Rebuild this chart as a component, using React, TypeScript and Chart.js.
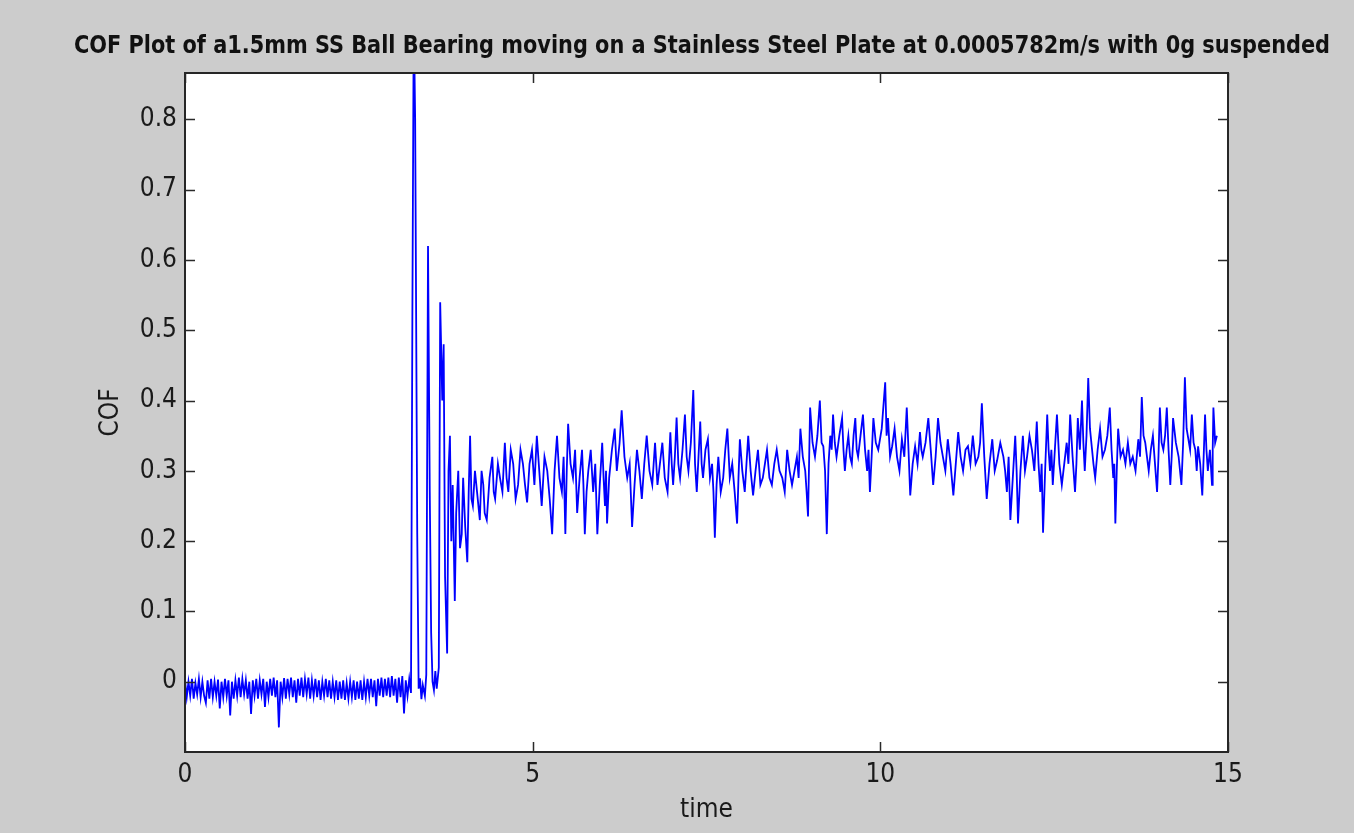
import React, { useEffect, useRef } from "react";
import { Chart, registerables } from "chart.js";

Chart.register(...registerables);

const titleText =
  "COF Plot of a1.5mm SS Ball Bearing moving on a Stainless Steel Plate at 0.0005782m/s with 0g suspended";
const xAxisLabel = "time";
const yAxisLabel = "COF";
const xTickValues = [0, 5, 10, 15];
const yTickValues = [0, 0.1, 0.2, 0.3, 0.4, 0.5, 0.6, 0.7, 0.8];

// [time, COF] samples
const baselineSamples: [number, number][] = [
  [0.0, 0.002], [0.025, -0.022], [0.05, 0.0], [0.075, -0.02], [0.1, 0.004], [0.125, -0.024], [0.15, -0.002],
  [0.175, -0.018], [0.2, 0.004], [0.225, -0.022], [0.25, 0.0], [0.275, -0.02], [0.3, -0.03], [0.325, 0.002],
  [0.35, -0.024], [0.375, 0.004], [0.4, -0.022], [0.425, 0.0], [0.45, -0.02], [0.475, 0.003], [0.5, -0.038],
  [0.525, 0.0], [0.55, -0.022], [0.575, 0.004], [0.6, -0.02], [0.625, 0.002], [0.65, -0.048], [0.675, 0.0],
  [0.7, -0.024], [0.725, 0.002], [0.75, -0.02], [0.775, 0.006], [0.8, -0.022], [0.825, 0.004], [0.85, -0.018],
  [0.875, 0.002], [0.9, -0.024], [0.925, 0.0], [0.95, -0.046], [0.975, 0.002], [1.0, -0.02], [1.025, 0.004],
  [1.05, -0.024], [1.075, 0.002], [1.1, -0.018], [1.125, 0.004], [1.15, -0.036], [1.175, 0.0], [1.2, -0.022],
  [1.225, 0.004], [1.25, -0.02], [1.275, 0.006], [1.3, -0.022], [1.325, 0.002], [1.35, -0.065], [1.375, 0.0],
  [1.4, -0.022], [1.425, 0.005], [1.45, -0.024], [1.475, 0.004], [1.5, -0.018], [1.525, 0.006], [1.55, -0.022],
  [1.575, 0.002], [1.6, -0.03], [1.625, 0.004], [1.65, -0.02], [1.675, 0.006], [1.7, -0.022], [1.725, 0.004],
  [1.75, -0.018], [1.775, 0.006], [1.8, -0.024], [1.825, 0.002], [1.85, -0.02], [1.875, 0.004], [1.9, -0.022],
  [1.925, 0.002], [1.95, -0.026], [1.975, 0.0], [2.0, -0.02], [2.025, 0.004], [2.05, -0.022], [2.075, 0.002],
  [2.1, -0.024], [2.125, 0.0], [2.15, -0.022], [2.175, 0.002], [2.2, -0.026], [2.225, 0.0], [2.25, -0.024],
  [2.275, 0.002], [2.3, -0.026], [2.325, -0.002], [2.35, -0.024], [2.375, 0.0], [2.4, -0.022], [2.425, 0.002],
  [2.45, -0.026], [2.475, 0.0], [2.5, -0.024], [2.525, 0.002], [2.55, -0.026], [2.575, 0.0], [2.6, -0.022],
  [2.625, 0.004], [2.65, -0.02], [2.675, 0.004], [2.7, -0.022], [2.725, 0.002], [2.75, -0.035], [2.775, 0.004],
  [2.8, -0.02], [2.825, 0.006], [2.85, -0.022], [2.875, 0.004], [2.9, -0.02], [2.925, 0.006], [2.95, -0.022],
  [2.975, 0.008], [3.0, -0.02], [3.025, 0.004], [3.05, -0.03], [3.075, 0.006], [3.1, -0.022], [3.125, 0.008],
  [3.15, -0.045], [3.175, 0.002], [3.2, -0.02], [3.225, 0.004], [3.25, -0.016],
];

const transientSamples: [number, number][] = [
  [3.27, 0.52], [3.29, 0.95], [3.31, 0.8], [3.34, 0.21], [3.36, -0.01], [3.38, 0.005], [3.4, -0.025], [3.42, -0.005],
  [3.45, -0.02], [3.47, 0.01], [3.495, 0.62], [3.52, 0.27], [3.54, 0.07], [3.56, 0.0], [3.58, -0.012], [3.6, 0.015],
  [3.62, -0.01], [3.65, 0.02], [3.67, 0.54], [3.7, 0.4], [3.72, 0.48], [3.74, 0.15], [3.77, 0.04], [3.79, 0.3],
  [3.81, 0.35], [3.83, 0.2], [3.85, 0.28], [3.88, 0.115], [3.9, 0.24], [3.93, 0.3], [3.955, 0.19], [3.98, 0.21],
  [4.0, 0.29], [4.03, 0.22], [4.06, 0.17], [4.08, 0.27], [4.1, 0.35], [4.12, 0.26], [4.14, 0.25], [4.17, 0.3],
  [4.2, 0.27],
];

const steadySamples: [number, number][] = [
  [4.24, 0.23], [4.265, 0.3], [4.29, 0.28], [4.31, 0.24], [4.34, 0.23], [4.38, 0.29], [4.42, 0.32], [4.44, 0.27],
  [4.46, 0.26], [4.5, 0.31], [4.53, 0.29], [4.565, 0.27], [4.6, 0.34], [4.625, 0.29], [4.65, 0.27], [4.685, 0.33],
  [4.72, 0.31], [4.755, 0.26], [4.79, 0.28], [4.825, 0.33], [4.86, 0.31], [4.89, 0.28], [4.92, 0.255], [4.955, 0.31],
  [4.99, 0.33], [5.025, 0.28], [5.06, 0.35], [5.095, 0.3], [5.13, 0.25], [5.17, 0.32], [5.21, 0.3], [5.245, 0.26],
  [5.28, 0.21], [5.315, 0.3], [5.35, 0.35], [5.385, 0.29], [5.42, 0.27], [5.445, 0.32], [5.47, 0.21], [5.49, 0.3],
  [5.51, 0.367], [5.545, 0.31], [5.58, 0.29], [5.61, 0.33], [5.64, 0.24], [5.675, 0.29], [5.71, 0.33], [5.73, 0.28],
  [5.75, 0.21], [5.775, 0.27], [5.8, 0.3], [5.835, 0.33], [5.87, 0.27], [5.9, 0.31], [5.93, 0.21], [5.965, 0.28],
  [6.0, 0.34], [6.02, 0.29], [6.04, 0.25], [6.055, 0.3], [6.07, 0.225], [6.1, 0.29], [6.14, 0.33], [6.18, 0.36],
  [6.21, 0.3], [6.25, 0.34], [6.28, 0.386], [6.32, 0.32], [6.36, 0.29], [6.395, 0.31], [6.43, 0.22], [6.465, 0.28],
  [6.5, 0.33], [6.535, 0.3], [6.57, 0.26], [6.605, 0.31], [6.64, 0.35], [6.68, 0.3], [6.72, 0.28], [6.74, 0.31],
  [6.76, 0.34], [6.795, 0.28], [6.83, 0.31], [6.865, 0.34], [6.9, 0.29], [6.94, 0.27], [6.98, 0.355], [7.0, 0.31],
  [7.02, 0.28], [7.045, 0.32], [7.07, 0.376], [7.095, 0.31], [7.12, 0.29], [7.155, 0.33], [7.19, 0.38], [7.215, 0.32],
  [7.24, 0.3], [7.275, 0.34], [7.31, 0.415], [7.335, 0.31], [7.36, 0.27], [7.385, 0.32], [7.41, 0.37], [7.43, 0.31],
  [7.45, 0.29], [7.485, 0.33], [7.52, 0.345], [7.55, 0.29], [7.58, 0.31], [7.6, 0.27], [7.62, 0.205], [7.645, 0.28],
  [7.67, 0.32], [7.705, 0.27], [7.74, 0.29], [7.77, 0.33], [7.8, 0.36], [7.835, 0.29], [7.87, 0.31], [7.905, 0.27],
  [7.94, 0.225], [7.96, 0.29], [7.98, 0.345], [8.015, 0.3], [8.05, 0.27], [8.075, 0.31], [8.1, 0.35], [8.135, 0.3],
  [8.17, 0.265], [8.205, 0.3], [8.24, 0.33], [8.275, 0.28], [8.31, 0.29], [8.34, 0.31], [8.37, 0.33], [8.405, 0.29],
  [8.44, 0.28], [8.475, 0.31], [8.51, 0.33], [8.55, 0.3], [8.59, 0.29], [8.625, 0.27], [8.66, 0.33], [8.695, 0.3],
  [8.73, 0.28], [8.765, 0.3], [8.8, 0.32], [8.825, 0.29], [8.85, 0.36], [8.885, 0.32], [8.92, 0.3], [8.94, 0.27],
  [8.96, 0.235], [8.975, 0.31], [8.99, 0.39], [9.025, 0.34], [9.06, 0.32], [9.095, 0.35], [9.13, 0.4], [9.155, 0.34],
  [9.18, 0.335], [9.205, 0.3], [9.23, 0.21], [9.255, 0.31], [9.28, 0.35], [9.3, 0.33], [9.32, 0.38], [9.345, 0.34],
  [9.37, 0.32], [9.41, 0.35], [9.45, 0.375], [9.47, 0.33], [9.49, 0.3], [9.515, 0.33], [9.54, 0.35], [9.565, 0.32],
  [9.59, 0.31], [9.615, 0.35], [9.64, 0.375], [9.66, 0.33], [9.68, 0.32], [9.715, 0.35], [9.75, 0.38], [9.78, 0.33],
  [9.81, 0.3], [9.83, 0.33], [9.85, 0.27], [9.875, 0.32], [9.9, 0.375], [9.935, 0.34], [9.97, 0.33], [10.02, 0.36],
  [10.07, 0.426], [10.09, 0.35], [10.11, 0.375], [10.14, 0.32], [10.17, 0.335], [10.205, 0.36], [10.24, 0.32],
  [10.275, 0.3], [10.31, 0.345], [10.345, 0.32], [10.38, 0.39], [10.405, 0.33], [10.43, 0.265], [10.465, 0.31],
  [10.5, 0.335], [10.535, 0.31], [10.57, 0.355], [10.59, 0.33], [10.61, 0.32], [10.65, 0.34], [10.69, 0.375],
  [10.725, 0.33], [10.76, 0.28], [10.795, 0.32], [10.83, 0.375], [10.865, 0.34], [10.9, 0.32], [10.935, 0.3],
  [10.97, 0.345], [11.01, 0.31], [11.05, 0.265], [11.085, 0.31], [11.12, 0.355], [11.155, 0.32], [11.19, 0.3],
  [11.225, 0.33], [11.26, 0.335], [11.295, 0.31], [11.33, 0.35], [11.37, 0.31], [11.41, 0.32], [11.435, 0.34],
  [11.46, 0.396], [11.495, 0.32], [11.53, 0.26], [11.57, 0.31], [11.61, 0.345], [11.645, 0.3], [11.68, 0.315],
  [11.725, 0.34], [11.77, 0.32], [11.795, 0.3], [11.82, 0.27], [11.845, 0.32], [11.87, 0.23], [11.905, 0.29],
  [11.94, 0.35], [11.96, 0.3], [11.98, 0.225], [12.015, 0.3], [12.05, 0.35], [12.08, 0.3], [12.11, 0.32],
  [12.145, 0.35], [12.18, 0.33], [12.215, 0.3], [12.25, 0.37], [12.275, 0.31], [12.3, 0.27], [12.32, 0.31],
  [12.34, 0.212], [12.37, 0.3], [12.4, 0.38], [12.42, 0.33], [12.44, 0.3], [12.46, 0.33], [12.48, 0.28], [12.51, 0.33],
  [12.54, 0.38], [12.575, 0.31], [12.61, 0.28], [12.645, 0.31], [12.68, 0.34], [12.705, 0.31], [12.73, 0.38],
  [12.765, 0.32], [12.8, 0.27], [12.82, 0.31], [12.84, 0.375], [12.87, 0.33], [12.9, 0.4], [12.92, 0.34], [12.94, 0.3],
  [12.965, 0.35], [12.99, 0.432], [13.015, 0.36], [13.04, 0.335], [13.065, 0.31], [13.09, 0.29], [13.125, 0.33],
  [13.16, 0.36], [13.195, 0.32], [13.23, 0.33], [13.265, 0.35], [13.3, 0.39], [13.325, 0.33], [13.35, 0.29],
  [13.365, 0.31], [13.38, 0.225], [13.4, 0.3], [13.42, 0.36], [13.455, 0.32], [13.49, 0.33], [13.525, 0.31],
  [13.56, 0.34], [13.595, 0.31], [13.63, 0.32], [13.67, 0.3], [13.71, 0.345], [13.735, 0.32], [13.76, 0.405],
  [13.785, 0.35], [13.81, 0.34], [13.835, 0.32], [13.86, 0.3], [13.89, 0.33], [13.92, 0.35], [13.95, 0.31],
  [13.98, 0.27], [14.0, 0.32], [14.02, 0.39], [14.045, 0.34], [14.07, 0.33], [14.095, 0.35], [14.12, 0.39],
  [14.145, 0.33], [14.17, 0.28], [14.19, 0.32], [14.21, 0.375], [14.25, 0.34], [14.29, 0.32], [14.31, 0.3],
  [14.33, 0.28], [14.355, 0.34], [14.38, 0.433], [14.405, 0.36], [14.43, 0.345], [14.455, 0.33], [14.48, 0.38],
  [14.505, 0.34], [14.53, 0.33], [14.55, 0.3], [14.57, 0.335], [14.6, 0.31], [14.63, 0.265], [14.65, 0.32],
  [14.67, 0.38], [14.69, 0.33], [14.71, 0.3], [14.74, 0.33], [14.77, 0.28], [14.78, 0.33], [14.79, 0.39],
  [14.815, 0.34], [14.84, 0.35],
];

const FONT = "'Liberation Sans Narrow', 'DejaVu Sans Condensed', 'Arial Narrow', sans-serif";

function toPoints(samples: [number, number][]) {
  return samples.map(([t, v]) => ({ x: t, y: v }));
}

const axesBoxPlugin = {
  id: "axesBox",
  beforeDraw(chart: any) {
    const { ctx, chartArea } = chart;
    ctx.save();
    ctx.fillStyle = "#cccccc";
    ctx.fillRect(0, 0, chart.width, chart.height);
    ctx.fillStyle = "#ffffff";
    ctx.fillRect(chartArea.left, chartArea.top, chartArea.right - chartArea.left, chartArea.bottom - chartArea.top);
    ctx.font = `bold 25px ${FONT}`;
    ctx.fillStyle = "#111111";
    ctx.textAlign = "center";
    ctx.textBaseline = "alphabetic";
    const w = ctx.measureText(titleText).width;
    const sx = 1256 / w;
    ctx.translate(702, 53);
    ctx.scale(sx, 1);
    ctx.fillText(titleText, 0, 0);
    ctx.restore();
  },
  afterDraw(chart: any) {
    const { ctx, chartArea, scales } = chart;
    const { left, right, top, bottom } = chartArea;
    ctx.save();
    ctx.strokeStyle = "#2a2a2a";
    ctx.lineWidth = 1.5;
    const len = 10;
    ctx.beginPath();
    scales.x.ticks.forEach((t: any) => {
      const px = Math.round(scales.x.getPixelForValue(t.value)) + 0.5;
      ctx.moveTo(px, bottom);
      ctx.lineTo(px, bottom - len);
      ctx.moveTo(px, top);
      ctx.lineTo(px, top + len);
    });
    scales.y.ticks.forEach((t: any) => {
      const py = Math.round(scales.y.getPixelForValue(t.value)) + 0.5;
      ctx.moveTo(left, py);
      ctx.lineTo(left + len, py);
      ctx.moveTo(right, py);
      ctx.lineTo(right - len, py);
    });
    ctx.stroke();
    ctx.lineWidth = 2;
    ctx.strokeStyle = "#262626";
    ctx.strokeRect(left, top, right - left, bottom - top);
    ctx.restore();
  },
};

export default function App() {
  const canvasRef = useRef<HTMLCanvasElement | null>(null);

  useEffect(() => {
    const canvas = canvasRef.current;
    if (!canvas) return;
    const points = [...toPoints(baselineSamples), ...toPoints(transientSamples), ...toPoints(steadySamples)];
    const chart = new Chart(canvas, {
      type: "line",
      data: {
        datasets: [
          {
            data: points,
            borderColor: "#0000ff",
            borderWidth: 1.8,
            pointRadius: 0,
            tension: 0,
            fill: false,
            clip: 0,
          } as any,
        ],
      },
      options: {
        animation: false,
        responsive: false,
        devicePixelRatio: 1,
        layout: { padding: { top: 73, right: 126, bottom: 0, left: 0 } },
        plugins: { legend: { display: false }, tooltip: { enabled: false }, title: { display: false } },
        scales: {
          x: {
            type: "linear",
            min: 0,
            max: 15,
            grid: { display: false, drawTicks: false, tickLength: 0 },
            border: { display: false },
            afterBuildTicks: (scale: any) => {
              scale.ticks = xTickValues.map((v) => ({ value: v }));
            },
            afterFit: (scale: any) => {
              scale.height = 81;
            },
            ticks: {
              padding: 8,
              color: "#1a1a1a",
              font: { family: FONT, size: 26 },
              callback: (v: any) => String(v),
              maxRotation: 0,
              autoSkip: false,
            },
            title: {
              display: true,
              text: xAxisLabel,
              color: "#1a1a1a",
              font: { family: FONT, size: 26 },
              padding: { top: 0, bottom: 7 },
            },
          },
          y: {
            type: "linear",
            min: -0.1,
            max: 0.866,
            grid: { display: false, drawTicks: false, tickLength: 0 },
            border: { display: false },
            afterBuildTicks: (scale: any) => {
              scale.ticks = yTickValues.map((v) => ({ value: v }));
            },
            afterFit: (scale: any) => {
              scale.width = 185;
            },
            ticks: {
              padding: 8,
              color: "#1a1a1a",
              font: { family: FONT, size: 26 },
              callback: (v: any) => String(Math.round(v * 10) / 10),
              autoSkip: false,
            },
            title: {
              display: true,
              text: yAxisLabel,
              color: "#1a1a1a",
              font: { family: FONT, size: 26 },
              padding: { top: 96, bottom: 0 },
            },
          },
        },
      },
      plugins: [axesBoxPlugin],
    });
    return () => chart.destroy();
  }, []);

  return (
    <div style={{ position: "fixed", left: 0, top: 0, width: 1354, height: 833, background: "#cccccc" }}>
      <canvas ref={canvasRef} width={1354} height={833} style={{ display: "block", width: 1354, height: 833 }} />
    </div>
  );
}
